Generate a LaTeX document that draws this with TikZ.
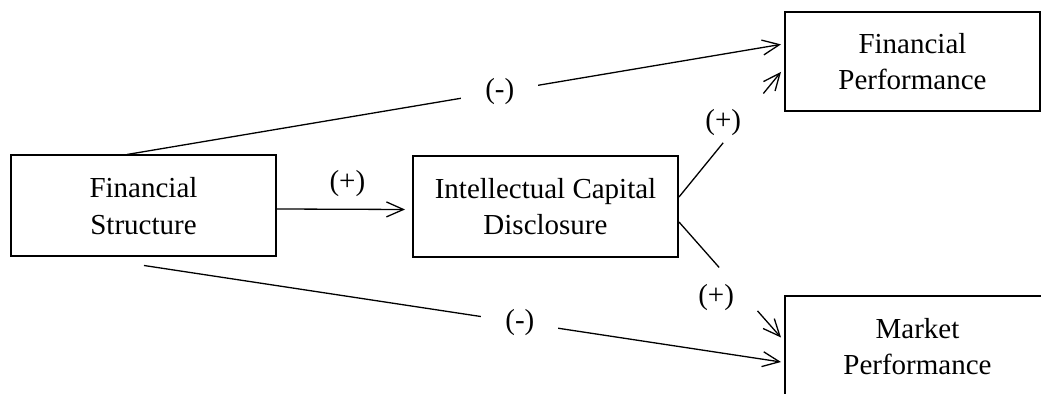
\documentclass[tikz,border=0pt]{standalone}
\usepackage{fontspec}
\setmainfont{Liberation Serif}
\usetikzlibrary{arrows.meta,calc}

\begin{document}
\begin{tikzpicture}[x=0.5pt,y=-0.5pt,font=\fontsize{14.5}{18.25}\selectfont,
  block/.style={draw,line width=1pt,minimum width=132.5pt,minimum height=50.5pt,align=center,inner sep=0pt},
  link/.style={line width=0.65pt},
  arrow/.style={link,-{Straight Barb[length=8.5pt,width=7.5pt]}},
  gaplabel/.style={fill=white,inner xsep=12pt,inner ysep=1pt},
  sign/.style={inner sep=0pt}]
\useasboundingbox (0,0) rectangle (1041,394);
% boxes
\node[block] (fs) at (143.5,206) {Financial\\Structure};
\node[block] (icd) at (545.5,206.5) {Intellectual Capital\\Disclosure};
\node[block,minimum width=127.5pt,minimum height=49.5pt] (fp) at (912.5,61.4) {Financial\\Performance};
\node[block] (mp) at (917.5,346.5) {Market\\Performance};
% end points
\coordinate (fstop) at ($(fs.north)+(-16.5,0)$);
\coordinate (fsbot) at ($(fs.south)+(0.5,8)$);
\coordinate (fpin1) at ($(fp.west)+(-3,-17)$);
\coordinate (fpin2) at ($(fp.west)+(-3,10.5)$);
\coordinate (mpin1) at ($(mp.west)+(-3,-9)$);
\coordinate (mpin2) at ($(mp.west)+(-3,15.5)$);
\coordinate (icdup) at ($(icd.east)+(0,-9.5)$);
\coordinate (icddn) at ($(icd.east)+(0,15.5)$);
% direct paths
\draw[arrow] (fstop) -- node[gaplabel,pos=0.57] (neg1) {(-)} (fpin1);
\draw[arrow] (fsbot) -- node[gaplabel,pos=0.59] (neg2) {(-)} (mpin2);
\draw[arrow] ($(fs.east)+(0,3)$) -- node[sign,above=6pt,pos=0.55] (pos1) {(+)} ($(icd.west)+(-7,3)$);
% paths via disclosure
\draw[link] (icdup) -- ($(icdup)!0.433!(fpin2)$);
\draw[arrow] ($(icdup)!0.827!(fpin2)$) -- (fpin2);
\node[sign] (pos2) at ($(icdup)!0.63!(fpin2)+(-20,4)$) {(+)};
\draw[link] (icddn) -- ($(icddn)!0.394!(mpin1)$);
\draw[arrow] ($(icddn)!0.77!(mpin1)$) -- (mpin1);
\node[sign] (pos3) at ($(icddn)!0.58!(mpin1)+(-22,9)$) {(+)};
\end{tikzpicture}
\end{document}
